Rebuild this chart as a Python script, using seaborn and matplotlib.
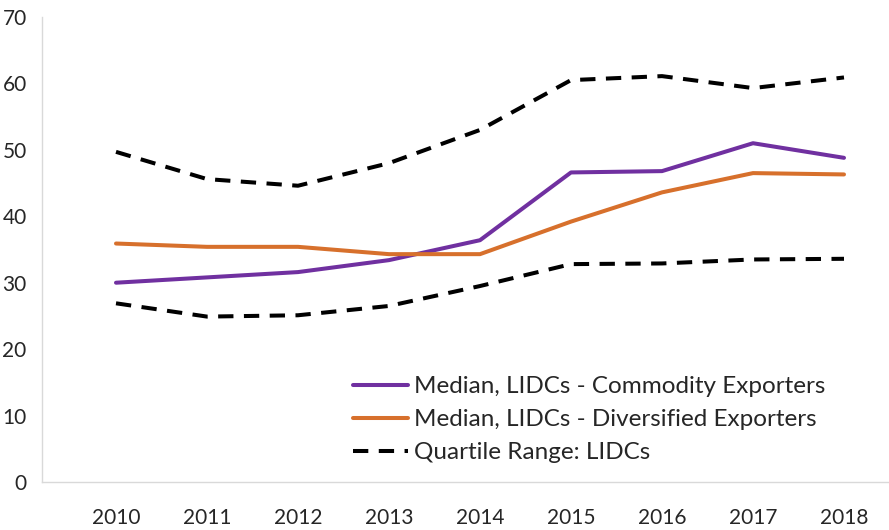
import pandas as pd
import matplotlib.pyplot as plt
import seaborn as sns

years = [2010, 2011, 2012, 2013, 2014, 2015, 2016, 2017, 2018]
commodity = [30.0, 30.8, 31.6, 33.4, 36.4, 46.6, 46.8, 51.0, 48.8]
diversified = [35.9, 35.4, 35.4, 34.3, 34.3, 39.2, 43.6, 46.5, 46.3]
quartile_upper = [49.7, 45.6, 44.6, 48.0, 53.0, 60.5, 61.1, 59.3, 60.9]
quartile_lower = [26.9, 24.9, 25.1, 26.5, 29.5, 32.8, 32.9, 33.5, 33.6]

sns.set_style('white')
plt.rcParams['font.family'] = ['Lato', 'DejaVu Sans']

df = pd.DataFrame({'year': years, 'commodity': commodity, 'diversified': diversified,
                   'upper': quartile_upper, 'lower': quartile_lower})

fig = plt.figure(figsize=(8.89, 5.30), dpi=100)
ax = fig.add_axes([42 / 889, 48 / 530, 1 - 42 / 889, 465 / 530])

sns.lineplot(data=df, x='year', y='commodity', ax=ax, color='#7030A0', lw=2.9,
             label='Median, LIDCs - Commodity Exporters')
sns.lineplot(data=df, x='year', y='diversified', ax=ax, color='#D7702C', lw=2.9,
             label='Median, LIDCs - Diversified Exporters')
sns.lineplot(data=df, x='year', y='upper', ax=ax, color='black', lw=2.9,
             label='Quartile Range: LIDCs')
ax.lines[-1].set_dashes([3.8, 2.6])
sns.lineplot(data=df, x='year', y='lower', ax=ax, color='black', lw=2.9)
ax.lines[-1].set_dashes([3.8, 2.6])

ax.set_xlim(2010 - 74 / 91, 2018 + 45 / 91)
ax.set_ylim(0, 70)
ax.set_yticks(range(0, 71, 10))
ax.set_xticks(years)
ax.set_xlabel('')
ax.set_ylabel('')

for s in ['top', 'right']:
    ax.spines[s].set_visible(False)
for s in ['left', 'bottom']:
    ax.spines[s].set_color('#D9D9D9')
    ax.spines[s].set_linewidth(1)
ax.tick_params(axis='y', length=5, color='#D9D9D9', labelsize=15, pad=6)
ax.tick_params(axis='x', length=0, labelsize=15, pad=19)

leg = ax.legend(loc='upper left', bbox_to_anchor=(353 / 889, 1 - 376 / 530),
                bbox_transform=fig.transFigure, frameon=False, borderpad=0,
                borderaxespad=0, fontsize=17.5, handlelength=2.25,
                handletextpad=0.25, labelspacing=0.5)
for h in leg.get_lines():
    h.set_linewidth(2.9)
leg.get_lines()[2].set_dashes([3.8, 2.6])

fig.savefig('out.png', dpi=100)
